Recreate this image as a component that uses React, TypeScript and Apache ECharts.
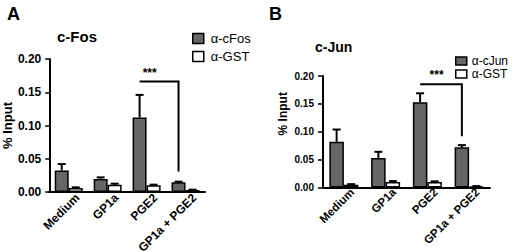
import React, { useEffect, useRef } from "react";
import * as echarts from "echarts";

const categories = ["Medium", "GP1a", "PGE2", "GP1a + PGE2"];
const yTickStep = 0.05;
const yMax = 0.2;

// Panel A: c-Fos
const fosValues = [0.0325, 0.0195, 0.112, 0.0145];
const fosErrors = [0.0095, 0.0025, 0.034, 0.001];
const fosGstValues = [0.006, 0.011, 0.010, 0.003];
const fosGstErrors = [0.001, 0.0015, 0.001, 0.0005];
// bracket: [fromCat, toCat, topValue, dropValue, labelFraction]
const fosBracket = [2, 3, 0.166, 0.031, 0.08];

// Panel B: c-Jun
const junValues = [0.082, 0.053, 0.153, 0.072];
const junErrors = [0.022, 0.011, 0.016, 0.004];
const junGstValues = [0.005, 0.010, 0.010, 0.002];
const junGstErrors = [0.001, 0.0015, 0.001, 0.0005];
const junBracket = [2, 3, 0.185, 0.092, 0.22];

const FONT = "'Liberation Sans', Arial, Helvetica, sans-serif";
const DARK = "#666666";

function errorSeries(axis: number, values: number[], errs: number[], side: number, half: number) {
  return {
    type: "custom",
    xAxisIndex: axis,
    yAxisIndex: axis,
    silent: true,
    z: 5,
    encode: { x: 0, y: 1 },
    data: values.map((v, i) => [i, v, errs[i]]),
    renderItem: (params: any, api: any) => {
      const i = api.value(0);
      const v = api.value(1);
      const e = api.value(2);
      const base = api.coord([i, v]);
      const top = api.coord([i, v + e]);
      const x = base[0] + side * half;
      return {
        type: "group",
        children: [
          { type: "line", shape: { x1: x, y1: base[1], x2: x, y2: top[1] }, style: { stroke: "#000", lineWidth: 2 } },
          { type: "line", shape: { x1: x - 4, y1: top[1], x2: x + 4, y2: top[1] }, style: { stroke: "#000", lineWidth: 2 } },
        ],
      };
    },
  };
}

function bracketSeries(axis: number, b: number[], half: number, fontSize: number) {
  return {
    type: "custom",
    xAxisIndex: axis,
    yAxisIndex: axis,
    silent: true,
    z: 6,
    encode: { x: 0, y: 2 },
    data: [b],
    renderItem: (params: any, api: any) => {
      const c1 = api.value(0);
      const c2 = api.value(1);
      const yTop = api.value(2);
      const yDrop = api.value(3);
      const frac = api.value(4);
      const p1 = api.coord([c1, yTop]);
      const p2 = api.coord([c2, yTop]);
      const p3 = api.coord([c2, yDrop]);
      const x1 = p1[0] - half;
      const x2 = p2[0] - half;
      const tx = p1[0] + frac * (p2[0] - p1[0]);
      return {
        type: "group",
        children: [
          { type: "polyline", shape: { points: [[x1, p1[1]], [x2, p2[1]], [x2, p3[1]]] }, style: { stroke: "#000", lineWidth: 2, fill: null } },
          { type: "text", style: { x: tx, y: p1[1] - 3, text: "***", textAlign: "center", textVerticalAlign: "bottom", font: `bold ${fontSize}px ${FONT}`, fill: "#000" } },
        ],
      };
    },
  };
}

// rotated category labels drawn at the category axis positions
function labelSeries(axis: number, fontSize: number, dx: number, dy: number) {
  return {
    type: "custom",
    xAxisIndex: axis,
    yAxisIndex: axis,
    silent: true,
    clip: false,
    z: 7,
    encode: { x: 0, y: 1 },
    data: categories.map((c, i) => [i, 0]),
    renderItem: (params: any, api: any) => {
      const i = api.value(0);
      const p = api.coord([i, 0]);
      return {
        type: "text",
        x: p[0] + dx,
        y: p[1] + dy,
        rotation: Math.PI / 4,
        style: {
          text: categories[i],
          align: "right",
          verticalAlign: "top",
          font: `bold ${fontSize}px ${FONT}`,
          fill: "#000",
        },
      };
    },
  };
}

function barSeries(axis: number, name: string, values: number[], color: string, width: number) {
  return {
    type: "bar",
    name,
    xAxisIndex: axis,
    yAxisIndex: axis,
    data: values,
    barWidth: width,
    barGap: "0%",
    itemStyle: { color, borderColor: "#000", borderWidth: 1.5 },
  };
}

function xAxisCfg(grid: number) {
  return {
    type: "category",
    gridIndex: grid,
    data: categories,
    axisLine: { lineStyle: { color: "#000", width: 2 } },
    axisTick: { alignWithLabel: true, length: 3, lineStyle: { color: "#000", width: 1.5 } },
    axisLabel: { show: false },
  };
}

function yAxisCfg(grid: number, fontSize: number, margin: number, tickLen: number, nameSize: number, nameGap: number, namePad: number) {
  return {
    type: "value",
    gridIndex: grid,
    min: 0,
    max: yMax,
    interval: yTickStep,
    name: "% Input",
    nameLocation: "middle",
    nameRotate: 90,
    nameGap,
    nameTextStyle: { fontFamily: FONT, fontWeight: "bold", fontSize: nameSize, color: "#000", padding: [0, 0, 0, namePad] },
    splitLine: { show: false },
    axisLine: { show: true, lineStyle: { color: "#000", width: 2 } },
    axisTick: { show: true, length: tickLen, lineStyle: { color: "#000", width: 1.5 } },
    axisLabel: {
      margin,
      fontFamily: FONT,
      fontWeight: "bold",
      fontSize,
      color: "#000",
      formatter: (v: number) => v.toFixed(2),
    },
  };
}

export default function App() {
  const ref = useRef<HTMLDivElement>(null);
  useEffect(() => {
    if (!ref.current) return;
    const chart = echarts.init(ref.current, null, { renderer: "svg" });
    const legendItem = (name: string, color: string) => ({
      name,
      itemStyle: { color, borderColor: "#000", borderWidth: 1.5 },
    });
    chart.setOption({
      animation: false,
      backgroundColor: "#fff",
      textStyle: { fontFamily: FONT },
      title: [
        { text: "A", left: 2, top: 0, textStyle: { fontFamily: FONT, fontWeight: "bold", fontSize: 18, color: "#000" } },
        { text: "c-Fos", left: 52, top: 24, textStyle: { fontFamily: FONT, fontWeight: "bold", fontSize: 15, color: "#000" } },
        { text: "B", left: 264, top: 0, textStyle: { fontFamily: FONT, fontWeight: "bold", fontSize: 18, color: "#000" } },
        { text: "c-Jun", left: 310, top: 35, textStyle: { fontFamily: FONT, fontWeight: "bold", fontSize: 14, color: "#000" } },
      ],
      legend: [
        {
          orient: "vertical",
          left: 192,
          top: 32,
          itemWidth: 11,
          itemHeight: 10,
          itemGap: 5,
          icon: "rect",
          padding: 0,
          textStyle: { fontFamily: FONT, fontSize: 13, lineHeight: 13, color: "#000", padding: [0, 0, 0, 2] },
          data: [legendItem("α-cFos", DARK), legendItem("α-GST", "#fff")],
        },
        {
          orient: "vertical",
          left: 455,
          top: 55,
          itemWidth: 11,
          itemHeight: 8,
          itemGap: 1,
          icon: "rect",
          padding: 0,
          textStyle: { fontFamily: FONT, fontSize: 12, lineHeight: 12, color: "#000", padding: [0, 0, 0, 0] },
          data: [legendItem("α-cJun", DARK), legendItem("α-GST ", "#fff")],
        },
      ],
      grid: [
        { left: 43, top: 59, width: 162, height: 133 },
        { left: 323, top: 76, width: 167, height: 111.5 },
      ],
      xAxis: [xAxisCfg(0), xAxisCfg(1)],
      yAxis: [yAxisCfg(0, 12, 8, 4, 13, 34, 0), yAxisCfg(1, 10, 9, 5, 12, 34, 36)],
      series: [
        barSeries(0, "α-cFos", fosValues, DARK, 14),
        barSeries(0, "α-GST", fosGstValues, "#fff", 14),
        errorSeries(0, fosValues, fosErrors, -1, 7),
        errorSeries(0, fosGstValues, fosGstErrors, 1, 7),
        bracketSeries(0, fosBracket, 7, 12),
        labelSeries(0, 12, 4.5, -0.5),
        barSeries(1, "α-cJun", junValues, DARK, 14.5),
        barSeries(1, "α-GST ", junGstValues, "#fff", 14.5),
        errorSeries(1, junValues, junErrors, -1, 7.25),
        errorSeries(1, junGstValues, junGstErrors, 1, 7.25),
        bracketSeries(1, junBracket, 7.25, 12),
        labelSeries(1, 11.5, 4, -1.5),
      ],
    });
    return () => chart.dispose();
  }, []);
  return <div ref={ref} style={{ position: "fixed", left: 0, top: 0, width: 520, height: 252 }} />;
}
